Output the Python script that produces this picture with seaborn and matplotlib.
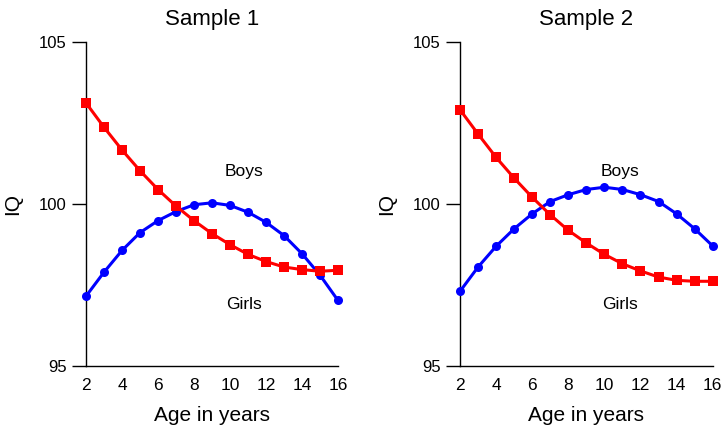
import pandas as pd
import seaborn as sns
import matplotlib.pyplot as plt

# Idade (anos)
ages = [2, 3, 4, 5, 6, 7, 8, 9, 10, 11, 12, 13, 14, 15, 16]

# Sample 1
girls_1 = [103.11, 102.36, 101.66, 101.02, 100.44, 99.93, 99.48, 99.08, 98.74,
           98.44, 98.22, 98.05, 97.97, 97.92, 97.95]
boys_1 = [97.15, 97.89, 98.56, 99.11, 99.48, 99.76, 99.97, 100.03, 99.95,
          99.74, 99.43, 99.02, 98.46, 97.80, 97.02]

# Sample 2
girls_2 = [102.90, 102.15, 101.43, 100.79, 100.20, 99.66, 99.18, 98.79, 98.44,
           98.15, 97.93, 97.74, 97.64, 97.61, 97.61]
boys_2 = [97.30, 98.05, 98.69, 99.23, 99.69, 100.07, 100.28, 100.44, 100.51,
          100.44, 100.28, 100.07, 99.69, 99.23, 98.70]

titles = ['Sample 1', 'Sample 2']
y_ticks = [95, 100, 105]
x_ticks = [2, 4, 6, 8, 10, 12, 14, 16]

sns.set_style('ticks')
plt.rcParams['font.family'] = ['Liberation Sans', 'DejaVu Sans']
plt.rcParams['text.color'] = 'black'
plt.rcParams['axes.labelcolor'] = 'black'
plt.rcParams['xtick.color'] = 'black'
plt.rcParams['ytick.color'] = 'black'

fig = plt.figure(figsize=(7.25, 4.29), dpi=100)
ax1 = fig.add_axes([0.1186, 0.147, 0.3476, 0.756])
ax2 = fig.add_axes([0.6345, 0.147, 0.3485, 0.756])

amostras = [(ax1, girls_1, boys_1, 10.8), (ax2, girls_2, boys_2, 10.85)]

for i, (ax, girls, boys, x_txt) in enumerate(amostras):
    tabela = pd.DataFrame({'age': ages, 'girls': girls, 'boys': boys})

    sns.lineplot(data=tabela, x='age', y='boys', ax=ax, color='#0000ff',
                 marker='o', markersize=6.5, markeredgewidth=0, linewidth=2.2,
                 clip_on=False, zorder=3)
    sns.lineplot(data=tabela, x='age', y='girls', ax=ax, color='#ff0000',
                 marker='s', markersize=7, markeredgewidth=0, linewidth=2.2,
                 clip_on=False, zorder=4)

    ax.text(x_txt, 101.0, 'Boys', fontsize=12.5, ha='center', va='center')
    ax.text(x_txt, 96.9, 'Girls', fontsize=12.5, ha='center', va='center')

    ax.set_xlim(2, 16)
    ax.set_ylim(95, 105)
    ax.set_xticks(x_ticks)
    ax.set_yticks(y_ticks)
    ax.tick_params(axis='x', length=0, pad=9, labelsize=12.5)
    ax.tick_params(axis='y', length=10, width=1, pad=4, labelsize=12)
    ax.set_title(titles[i], fontsize=16, pad=12)
    ax.set_xlabel('Age in years', fontsize=15, labelpad=9)
    ax.set_ylabel('IQ', fontsize=15, labelpad=12)
    sns.despine(ax=ax)
    for s in ['left', 'bottom']:
        ax.spines[s].set_linewidth(1)
        ax.spines[s].set_color('black')

plt.savefig('out.png', dpi=100)
